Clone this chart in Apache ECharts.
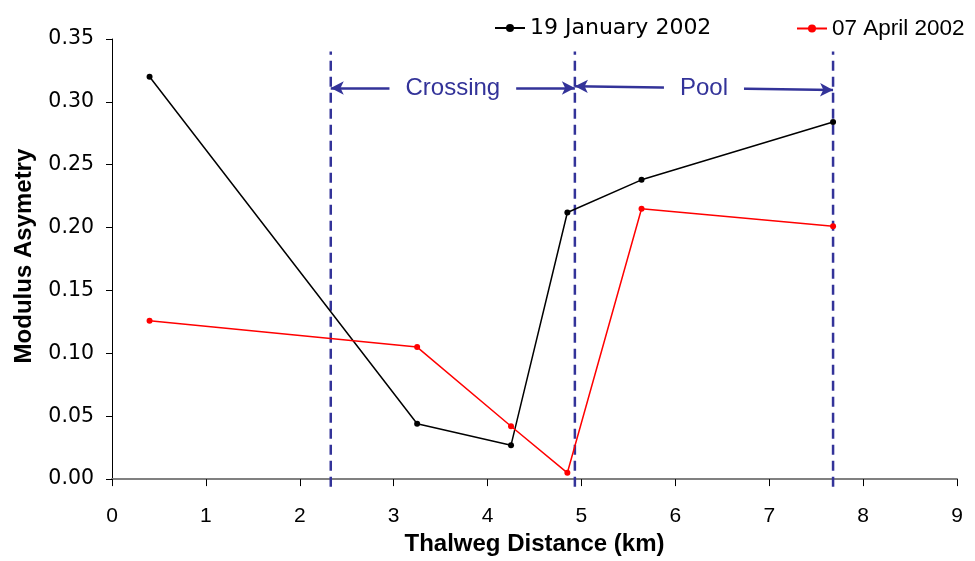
<!DOCTYPE html>
<html><head><meta charset="utf-8">
<script src="https://cdn.jsdelivr.net/npm/echarts@6/dist/echarts.min.js"></script>
<style>html,body{margin:0;padding:0;background:#fff}#c{width:975px;height:561px}</style>
</head><body><div id="c"></div>
<script>
const distJan = [0.40, 3.25, 4.25, 4.85, 5.64, 7.68];
const valJan = [0.320, 0.044, 0.027, 0.212, 0.238, 0.284];
const distApr = [0.40, 3.25, 4.25, 4.85, 5.64, 7.68];
const valApr = [0.126, 0.105, 0.042, 0.005, 0.215, 0.201];
const boundaries = [2.33, 4.93, 7.68];
const zoneNames = ['Crossing', 'Pool'];
const zoneY = [[0.311, 0.311], [0.3125, 0.3095]];
const xTicks = [0, 1, 2, 3, 4, 5, 6, 7, 8, 9];
const yTicks = [0, 0.05, 0.10, 0.15, 0.20, 0.25, 0.30, 0.35];

const navy = '#333399';
const font = 'Liberation Sans, Arial, sans-serif';
const wide = 'DejaVu Sans, sans-serif';

const series = [
  {name: '19 January 2002', type: 'line', data: distJan.map((d,i)=>[d, valJan[i]]),
   symbol: 'circle', symbolSize: 6, itemStyle: {color: '#000'}, lineStyle: {color: '#000', width: 1.5}, z: 5},
  {name: '07 April 2002', type: 'line', data: distApr.map((d,i)=>[d, valApr[i]]),
   symbol: 'circle', symbolSize: 6, itemStyle: {color: '#ff0000'}, lineStyle: {color: '#ff0000', width: 1.5}, z: 5}
];
boundaries.forEach(b => {
  series.push({type: 'line', data: [[b, -0.006], [b, 0.34]], symbol: 'none', clip: false, silent: true,
    lineStyle: {color: navy, width: 2.5, type: [10, 6]}, z: 3});
});
zoneNames.forEach((n, i) => {
  series.push({type: 'line', data: [], silent: true,
    markLine: {silent: true, symbol: ['arrow', 'arrow'], symbolSize: [10, 13],
      lineStyle: {color: navy, width: 2.5, type: 'solid'},
      label: {show: false},
      data: [[{coord: [boundaries[i], zoneY[i][0]]}, {coord: [boundaries[i+1], zoneY[i][1]]}]]}
  });
  series.push({type: 'scatter', silent: true, symbolSize: 0, itemStyle: {color: '#fff', opacity: 1}, z: 10,
    data: [[(boundaries[i] + boundaries[i+1]) / 2, (zoneY[i][0] + zoneY[i][1]) / 2]],
    label: {show: true, position: 'inside', formatter: n, color: navy, fontSize: 24, fontFamily: font,
      backgroundColor: '#fff', padding: [2, 16], opacity: 1}});
});

const legendBase = {top: 12, itemWidth: 30, itemHeight: 10};

const chart = echarts.init(document.getElementById('c'), null, {renderer: 'canvas'});
chart.setOption({
  animation: false,
  textStyle: {fontFamily: font},
  grid: {left: 112, right: 18, top: 39, bottom: 80},
  legend: [
    Object.assign({data: ['19 January 2002'], left: 489, textStyle: {fontSize: 22, color: '#000', fontFamily: wide}}, legendBase),
    Object.assign({data: ['07 April 2002'], left: 791, textStyle: {fontSize: 22.5, color: '#000', fontFamily: font}}, legendBase)
  ],
  xAxis: {type: 'value', min: 0, max: 9, interval: 1,
    name: 'Thalweg Distance (km)', nameLocation: 'middle', nameGap: 49,
    nameTextStyle: {fontSize: 24, fontWeight: 'bold', color: '#000', fontFamily: font},
    axisLine: {lineStyle: {color: '#808080', width: 2}},
    axisTick: {show: true, inside: false, length: 7, lineStyle: {color: '#000'}},
    axisLabel: {fontSize: 21, color: '#000', margin: 27, formatter: v => xTicks.includes(v) ? String(v) : ''},
    splitLine: {show: false}},
  yAxis: {type: 'value', min: 0, max: 0.35, interval: 0.05,
    name: 'Modulus Asymetry', nameLocation: 'middle', nameGap: 76,
    nameTextStyle: {fontSize: 24, fontWeight: 'bold', color: '#000', fontFamily: font, padding: [0, 0, 0, 6]},
    axisLine: {show: true, lineStyle: {color: '#000', width: 1}},
    axisTick: {show: true, length: 6, lineStyle: {color: '#000'}},
    axisLabel: {fontSize: 20.5, color: '#000', margin: 18, fontFamily: wide, formatter: v => yTicks.some(t => Math.abs(t - v) < 1e-9) ? v.toFixed(2) : ''},
    splitLine: {show: false}},
  series: series
});
</script></body></html>
